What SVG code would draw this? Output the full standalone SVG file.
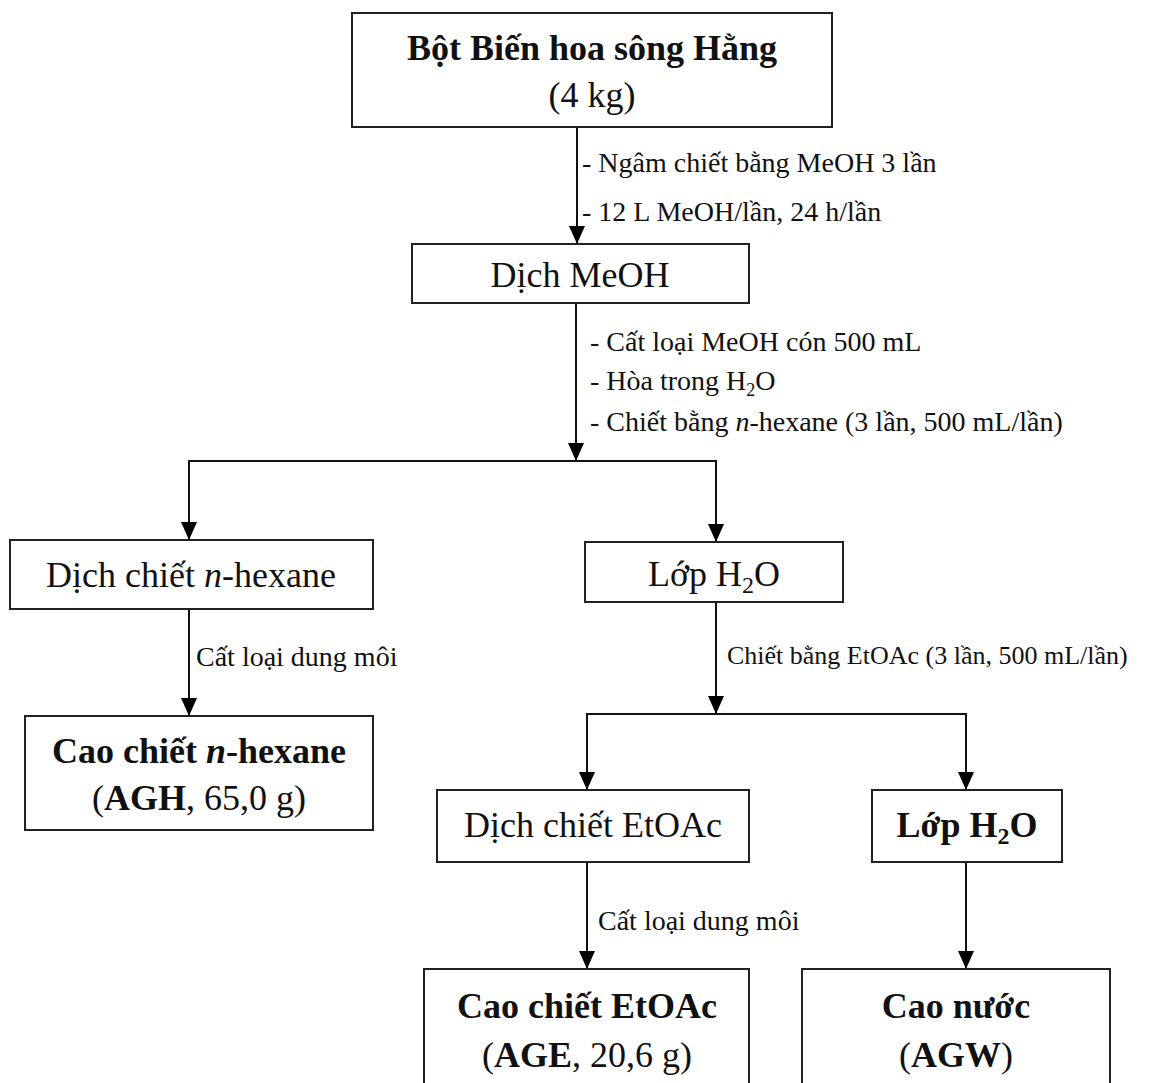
<svg xmlns="http://www.w3.org/2000/svg" width="1153" height="1083" viewBox="0 0 1153 1083">
<defs>
<marker id="arr" markerUnits="userSpaceOnUse" markerWidth="18" markerHeight="16" viewBox="0 0 18 16" refX="18" refY="8" orient="auto">
<path d="M0,0 L18,8 L0,16 Z" fill="#000"/>
</marker>
<style>
.box{fill:#fff;stroke:#222;stroke-width:2}
.t{font-family:"Liberation Serif","Times New Roman",serif;font-size:36px;fill:#111;text-anchor:middle}
.b{font-weight:bold}
.l{font-family:"Liberation Serif","Times New Roman",serif;font-size:28px;fill:#111}
.s{font-size:26px}
.c{fill:none;stroke:#111;stroke-width:2}
.a{fill:none;stroke:#111;stroke-width:2}
</style>
</defs>
<rect width="1153" height="1083" fill="#fff"/>
<g id="connectors">
<line class="a" x1="577" y1="127" x2="577" y2="244" marker-end="url(#arr)"/>
<line class="c" x1="576" y1="303" x2="576" y2="461"/>
<path d="M568,443 L584,443 L576,461 Z" fill="#000"/>
<polyline class="a" points="576,461 189,461 189,540" marker-end="url(#arr)"/>
<polyline class="a" points="576,461 716,461 716,542" marker-end="url(#arr)"/>
<line class="a" x1="189" y1="609" x2="189" y2="716" marker-end="url(#arr)"/>
<line class="c" x1="716" y1="602" x2="716" y2="714"/>
<path d="M708,696 L724,696 L716,714 Z" fill="#000"/>
<polyline class="a" points="716,714 587,714 587,790" marker-end="url(#arr)"/>
<polyline class="a" points="716,714 966,714 966,790" marker-end="url(#arr)"/>
<line class="a" x1="587" y1="862" x2="587" y2="969" marker-end="url(#arr)"/>
<line class="a" x1="966" y1="862" x2="966" y2="969" marker-end="url(#arr)"/>
<text class="l" x="582" y="172">- Ngâm chiết bằng MeOH 3 lần</text>
<text class="l" x="582" y="221">- 12 L MeOH/lần, 24 h/lần</text>
<text class="l" x="590" y="351">- Cất loại MeOH cón 500 mL</text>
<text class="l" x="590" y="390">- Hòa trong H<tspan font-size="18" dy="6">2</tspan><tspan dy="-6">O</tspan></text>
<text class="l" x="590" y="431">- Chiết bằng <tspan font-style="italic">n</tspan>-hexane (3 lần, 500 mL/lần)</text>
<text class="l" x="196" y="666">Cất loại dung môi</text>
<text class="l s" x="727" y="664">Chiết bằng EtOAc (3 lần, 500 mL/lần)</text>
<text class="l" x="598" y="930">Cất loại dung môi</text>
</g>
<g id="n1">
<rect class="box" x="352" y="13" width="480" height="114"/>
<text class="t b" x="592" y="60">Bột Biến hoa sông Hằng</text>
<text class="t" x="592" y="107">(4 kg)</text>
</g>
<g id="n2">
<rect class="box" x="412" y="244" width="337" height="59"/>
<text class="t" x="580" y="287">Dịch MeOH</text>
</g>
<g id="n3">
<rect class="box" x="10" y="540" width="363" height="69"/>
<text class="t" x="191" y="587">Dịch chiết <tspan font-style="italic">n</tspan>-hexane</text>
</g>
<g id="n4">
<rect class="box" x="585" y="542" width="258" height="60"/>
<text class="t" x="714" y="586">Lớp H<tspan font-size="24" dy="7">2</tspan><tspan dy="-7">O</tspan></text>
</g>
<g id="n5">
<rect class="box" x="25" y="716" width="348" height="114"/>
<text class="t b" x="199" y="763">Cao chiết <tspan font-style="italic">n</tspan>-hexane</text>
<text class="t" x="199" y="810">(<tspan font-weight="bold">AGH</tspan>, 65,0 g)</text>
</g>
<g id="n6">
<rect class="box" x="437" y="790" width="312" height="72"/>
<text class="t" x="593" y="837">Dịch chiết EtOAc</text>
</g>
<g id="n7">
<rect class="box" x="872" y="790" width="190" height="72"/>
<text class="t b" x="967" y="837">Lớp H<tspan font-size="24" dy="7">2</tspan><tspan dy="-7">O</tspan></text>
</g>
<g id="n8">
<rect class="box" x="424" y="969" width="325" height="125"/>
<text class="t b" x="587" y="1018">Cao chiết EtOAc</text>
<text class="t" x="587" y="1067">(<tspan font-weight="bold">AGE</tspan>, 20,6 g)</text>
</g>
<g id="n9">
<rect class="box" x="802" y="969" width="308" height="125"/>
<text class="t b" x="956" y="1018">Cao nước</text>
<text class="t" x="956" y="1067">(<tspan font-weight="bold">AGW</tspan>)</text>
</g>
</svg>
